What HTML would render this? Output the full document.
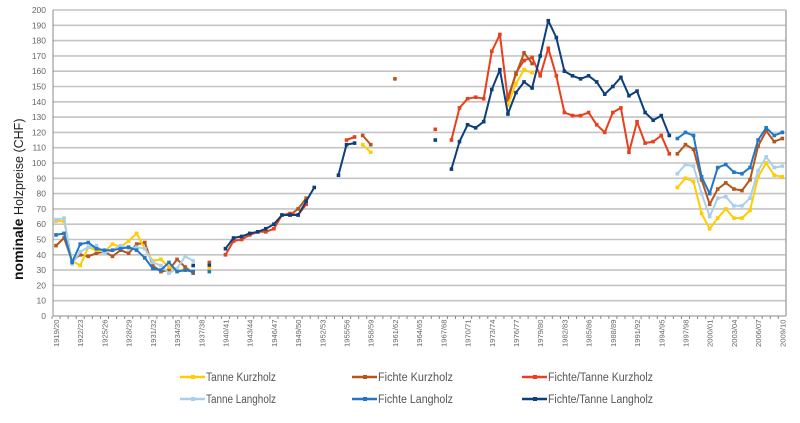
<!DOCTYPE html>
<html><head><meta charset="utf-8"><style>
body{margin:0;background:#fff;width:800px;height:418px;overflow:hidden}
svg{font-family:"Liberation Sans",sans-serif}
</style></head><body>
<svg id="s" width="800" height="418" xmlns="http://www.w3.org/2000/svg"></svg>
<script>
const s=document.getElementById('s');let h='';
const X=i=>56+8.07*i, Y=v=>316-v*1.53;
// grid
for(let v=0;v<=200;v+=10){const y=Y(v);
 h+=`<line x1="53" x2="786" y1="${y}" y2="${y}" stroke="${v?'#c4c4c4':'#888'}" stroke-width="${v?1.6:1}"/>`;
 h+=`<text x="46" y="${y+3}" font-size="8.5" fill="#666" text-anchor="end">${v}</text>`;}
h+=`<line x1="53" x2="53" y1="10" y2="316" stroke="#888"/><line x1="786" x2="786" y1="10" y2="316" stroke="#aaa" stroke-width="1.5"/>`;
for(let i=0;i<=90;i++){h+=`<line x1="${X(i)-4}" x2="${X(i)-4}" y1="316" y2="319" stroke="#888"/>`;}
for(let i=0;i<=90;i+=3){const y=1919+i,l=y+'/'+String((y+1)%100).padStart(2,'0');
 h+=`<text transform="translate(${X(i)+3},347) rotate(-90)" font-size="7.6" fill="#666">${l}</text>`;}
h+=`<text transform="translate(23,280) rotate(-90)" font-size="14" fill="#111"><tspan font-weight="bold">nominale</tspan><tspan font-size="12.5" fill="#222"> Holzpreise (CHF)</tspan></text>`;
const C={y:'#FFCC00',b:'#B5561A',r:'#E8401C',l:'#A8CFEE',m:'#2277C4',n:'#0D3F7A'};
function line(c,st,vals,w=2){const p=vals.map((v,k)=>`${X(st+k).toFixed(1)},${Y(v).toFixed(1)}`);
 h+=`<polyline points="${p.join(' ')}" fill="none" stroke="${c}" stroke-width="${w}" stroke-linejoin="round"/>`;
 vals.forEach((v,k)=>{h+=`<rect x="${X(st+k)-1.8}" y="${Y(v)-1.8}" width="3.6" height="3.6" fill="${c}"/>`});}
// early
line(C.b,0,[46,51,36,40,39,41,42,39,43,41,47,48,33,29,30,37,32,28]);
line(C.y,0,[62,62,36,33,45,43,42,47,45,49,54,44,36,37,32,30,30]);
line(C.l,0,[63,64,34,42,45,46,41,43,46,44,45,44,35,33,28,31,39,36]);
line(C.m,0,[53,54,35,47,48,44,43,43,44,45,43,38,31,30,35,29,30,29]);
line(C.n,17,[33]);
line(C.b,19,[35]);line(C.n,19,[33]);line(C.y,19,[31]);line(C.m,19,[29]);
// 1940s
line(C.b,29,[66,70,77]);
line(C.r,21,[40,49,50,53,55,55,57,66,67,66,73]);
line(C.n,21,[44,51,52,54,55,57,60,66,66,66,75,84]);
line(C.n,35,[92,112,113]);
line(C.r,36,[115,117]);
line(C.y,38,[112,107]);line(C.b,38,[118,112]);
line(C.b,42,[155]);
line(C.r,47,[122]);line(C.n,47,[115]);
// 1968+
line(C.r,49,[115,136,142,143,142,173,184,141,159,167,169,157,175,157,133,131,131,133,125,120,133,136,107,127,113,114,118,106]);
line(C.y,56,[138,152,161,159]);
line(C.b,56,[143,158,172,165]);
line(C.n,49,[96,114,125,123,127,148,161,132,146,153,149,170,193,182,160,157,155,157,153,145,150,156,144,147,133,128,131,118]);
// late
line(C.y,77,[84,90,88,67,57,64,70,64,64,69,91,100,92,91]);
line(C.l,77,[93,99,98,80,65,77,78,72,72,77,95,104,97,98]);
line(C.b,77,[106,112,109,89,73,83,87,83,82,89,111,121,114,116]);
line(C.m,77,[116,120,118,91,80,97,99,94,93,97,115,123,118,120]);
// legend
const L=[['Tanne Kurzholz',C.y,180,377],['Fichte Kurzholz',C.b,352,377],['Fichte/Tanne Kurzholz',C.r,522,377],
['Tanne Langholz',C.l,180,399],['Fichte Langholz',C.m,352,399],['Fichte/Tanne Langholz',C.n,522,399]];
L.forEach(([t,c,x,y])=>{h+=`<line x1="${x}" x2="${x+25}" y1="${y}" y2="${y}" stroke="${c}" stroke-width="2.5"/><rect x="${x+11}" y="${y-2}" width="4" height="4" fill="${c}"/>`;
 h+=`<text x="${x+26}" y="${y+4}" font-size="11.5" fill="#555" textLength="${t.length*5}" lengthAdjust="spacingAndGlyphs">${t}</text>`;});
s.innerHTML=h;
</script>
</body></html>
